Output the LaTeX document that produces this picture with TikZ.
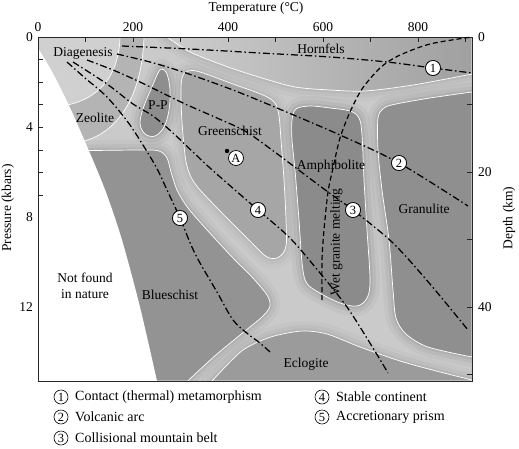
\documentclass[tikz,border=0pt]{standalone}
\usepackage{fontspec}
\setmainfont{Liberation Serif}
\definecolor{cbg}{HTML}{CACACA}
\definecolor{cDiag}{HTML}{D0D0D0}
\definecolor{cZeo}{HTML}{B4B4B4}
\definecolor{cHornL}{HTML}{CDCDCD}
\definecolor{cHornR}{HTML}{A0A0A0}
\definecolor{cPP}{HTML}{8E8E8E}
\definecolor{cGreen}{HTML}{A6A6A6}
\definecolor{cAmph}{HTML}{8B8B8B}
\definecolor{cGran}{HTML}{8F8F8F}
\definecolor{cBlue}{HTML}{939393}
\definecolor{cEclo}{HTML}{9B9B9B}
\tikzset{
  wline/.style={draw=white, line width=0.7pt},
  geo/.style={line width=1.25pt, dash pattern=on 7pt off 2.8pt on 1.5pt off 2.8pt},
  wet/.style={line width=1.2pt, dash pattern=on 5pt off 3pt},
  numc/.style={circle, draw=black, fill=white, line width=0.7pt, minimum size=15pt, inner sep=0pt, font=\fontsize{12.5}{12.5}\selectfont},
  legc/.style={circle, draw=black, line width=0.6pt, minimum size=14pt, inner sep=0pt, font=\fontsize{12.5}{12.5}\selectfont},
  lab/.style={font=\fontsize{13.5}{15.5}\selectfont, inner sep=0pt},
  leglab/.style={font=\fontsize{14}{16}\selectfont, inner sep=0pt, anchor=west},
  ticklab/.style={font=\fontsize{13.5}{15}\selectfont, inner sep=0pt},
  tick/.style={line width=0.7pt, black!85}
}
\newcommand\halo[2]{%
  \draw[#1, line width=20pt, opacity=0.10, line join=round] #2;
  \draw[#1, line width=12pt, opacity=0.16, line join=round] #2;
  \draw[#1, line width=5pt, opacity=0.25, line join=round] #2;}
\def\pHorn{plot[smooth] coordinates {(167,37) (190,52) (228,67) (262,78) (295,87) (330,90) (365,91) (413,85) (472,74)} -- (472,37) -- cycle}
\def\pGreen{plot[smooth cycle, tension=0.55] coordinates {(181,100) (182,78) (188,71) (200,72) (233,84) (263,95) (275,103) (279,116) (281,140) (284,180) (286,220) (286,246) (279,257) (267,257) (250,241) (222,213) (196,185) (187,166) (183,135)}}
\def\pBlue{plot[smooth] coordinates {(60,151) (140,150) (159,151) (167,158) (171,172) (177,190) (188,208) (208,231) (233,258) (252,277) (267,295) (270,306) (263,316) (245,331) (217,354) (193,376) (188,381)} -- (38,381) -- (38,151) -- cycle}
\def\pEclo{plot[smooth] coordinates {(212,381) (228,364) (243,350) (260,341) (278,335) (303,331) (327,334) (360,347) (400,361) (440,372) (472,380)} -- (472,381) -- cycle}
\def\pAmph{plot[smooth cycle, tension=0.55] coordinates {(292,120) (296,109) (310,106) (330,108) (350,111) (359,118) (362,135) (364,180) (367,230) (370,280) (367,298) (357,306) (340,303) (318,292) (306,282) (302,262) (299,220) (295,170) (292,140)}}
\def\pGran{plot[smooth] coordinates {(472,92) (430,98) (396,104) (384,108) (378,118) (378,150) (382,190) (389,240) (393,290) (396,318) (406,334) (428,347) (472,357)} -- cycle}
\def\pPP{plot[smooth cycle, tension=0.6] coordinates {(162,69) (167,74) (170,90) (169,110) (164,127) (155,136) (145,134) (140,123) (144,106) (152,87) (158,73)}}
\begin{document}
\begin{tikzpicture}[x=1pt,y=-1pt]
\useasboundingbox (0,0) rectangle (519,448);
% background of plot
\fill[cbg] (38,37) rectangle (472,381);
\begin{scope}
\clip (38,37) rectangle (472,381);
\halo{cHornR}{\pHorn}
\halo{cGreen}{\pGreen}
\halo{cPP}{\pPP}
\halo{cAmph}{\pAmph}
\halo{cGran}{\pGran}
\halo{cBlue}{\pBlue}
\halo{cEclo}{\pEclo}
% diagenesis and zeolite
\fill[cDiag] (38,37) -- (120,37) .. controls (119,75) and (100,100) .. (62,106) -- (38,106) -- cycle;
\fill[cZeo] (120,37) .. controls (119,75) and (100,100) .. (62,106) -- (38,106) -- (38,142) -- (80,142) .. controls (115,135) and (142,100) .. (144,37) -- cycle;
\draw[wline] (120,37) .. controls (119,75) and (100,100) .. (62,106);
\draw[wline] (144,37) .. controls (142,100) and (115,135) .. (80,142);
% facies fields
\shade[left color=cHornL, right color=cHornR] \pHorn;
\draw[wline] \pHorn;
\filldraw[fill=cGreen, wline] \pGreen;
\filldraw[fill=cPP, wline] \pPP;
\filldraw[fill=cAmph, wline] \pAmph;
\filldraw[fill=cGran, wline] \pGran;
\filldraw[fill=cBlue, wline] \pBlue;
\filldraw[fill=cEclo, wline] \pEclo;
% not found in nature
\fill[white] plot[smooth] coordinates {(38,48) (50,68) (60,87) (72,112) (83,137) (95,165) (107,195) (122,240) (140,307) (157,381)} -- (38,381) -- cycle;
\end{scope}
% frame and ticks
\draw[line width=0.8pt, black!85] (38,37) rectangle (472,381);
\foreach \i in {1,...,9} {\draw[tick] ({38+47.5*\i},37) -- ++(0,5);}
\foreach \i in {1,...,7} {\draw[tick] (38,{37+22.6*\i}) -- ++(5,0);}
\foreach \i in {1,...,5} {\draw[tick] (472,{37+67.5*\i}) -- ++(-5,0);}
% axis labels
\node[ticklab] (t0) at (38,27) {0};
\node[ticklab] (t200) at (133,27) {200};
\node[ticklab] (t400) at (228,27) {400};
\node[ticklab] (t600) at (323,27) {600};
\node[ticklab] (t800) at (418,27) {800};
\node[ticklab, anchor=east] (p0) at (33,37) {0};
\node[ticklab, anchor=east] (p4) at (33,127) {4};
\node[ticklab, anchor=east] (p8) at (33,217) {8};
\node[ticklab, anchor=east] (p12) at (33,307) {12};
\node[ticklab, anchor=west] (d0) at (478,37) {0};
\node[ticklab, anchor=west] (d20) at (478,172) {20};
\node[ticklab, anchor=west] (d40) at (478,307) {40};
\node[lab] (ttl) at (256,8) {Temperature (°C)};
\node[lab, rotate=90] (pttl) at (8,208) {Pressure (kbars)};
\node[lab, rotate=90] (dttl) at (509,218) {Depth (km)};
% geotherms
\node[numc] (c1) at (433,68) {1};
\node[numc] (c2) at (399,163) {2};
\node[numc] (c3) at (353,210) {3};
\node[numc] (c4) at (258,210) {4};
\node[numc] (c5) at (180,218) {5};
\coordinate (g1a) at (122,46); \coordinate (g1b) at (472,73);
\coordinate (g2a) at (117,54); \coordinate (g2b) at (468,206);
\coordinate (g3a) at (87,60);  \coordinate (g3b) at (468,330);
\coordinate (g4a) at (73,62);  \coordinate (g4b) at (388,373);
\coordinate (g5a) at (67,62);  \coordinate (g5b) at (270,352);
\coordinate (wa) at (322,300); \coordinate (wb) at (472,37);
\draw[geo] plot[smooth] coordinates {(g1a) (190,49) (260,53) (330,57) (387,62) (c1.center) (g1b)};
\draw[geo] plot[smooth] coordinates {(g2a) (150,62) (183,72) (233,90) (277,108) (340,135) (c2.center) (g2b)};
\draw[geo] plot[smooth] coordinates {(g3a) (113,70) (140,82) (183,103) (217,118) (245,131) (272,150) (300,171) (328,192) (c3.center) (393,243) (430,284) (g3b)};
\draw[geo] plot[smooth] coordinates {(g4a) (107,84) (133,104) (153,116) (173,133) (210,168) (c4.center) (290,238) (320,273) (347,307) (373,348) (g4b)};
\draw[geo] plot[smooth] coordinates {(g5a) (85,78) (107,97) (130,125) (155,165) (167,190) (c5.center) (191,245) (200,263) (217,292) (233,320) (248,334) (260,343) (g5b)};
\draw[wet] plot[smooth] coordinates {(wa) (322,260) (324,230) (328,192) (333,168) (340,138) (350,112) (362,89) (380,68) (398,56) (430,44) (wb)};
% redraw circles on top
\node[numc] at (c1) {1};
\node[numc] at (c2) {2};
\node[numc] at (c3) {3};
\node[numc] at (c4) {4};
\node[numc] at (c5) {5};
% point A
\fill (227,151) circle (2.2pt);
\node[numc] (ca) at (236,158) {A};
% field labels
\node[lab] (lhorn) at (321,49) {Hornfels};
\node[lab] (ldiag) at (83,53) {Diagenesis};
\node[lab] (lzeo) at (95,118) {Zeolite};
\node[lab] (lpp) at (158,105) {P-P};
\node[lab] (lgreen) at (230,131) {Greenschist};
\node[lab] (lamph) at (331,166) {Amphibolite};
\node[lab] (lgran) at (424,209) {Granulite};
\node[lab, align=center] (lnot) at (85,286) {Not found\\in nature};
\node[lab] (lblue) at (170,295) {Blueschist};
\node[lab] (lecl) at (306,364) {Eclogite};
\node[lab, rotate=90] (lwet) at (336.5,242) {Wet granite melting};
% legend
\node[legc] (k1) at (61,397) {1};
\node[leglab] (k1t) at (75,397) {Contact (thermal) metamorphism};
\node[legc] (k2) at (61,417) {2};
\node[leglab] (k2t) at (75,417) {Volcanic arc};
\node[legc] (k3) at (61,438) {3};
\node[leglab] (k3t) at (75,438) {Collisional mountain belt};
\node[legc] (k4) at (322,397) {4};
\node[leglab] (k4t) at (336,397) {Stable continent};
\node[legc] (k5) at (322,417) {5};
\node[leglab] (k5t) at (336,417) {Accretionary prism};
\end{tikzpicture}
\end{document}
